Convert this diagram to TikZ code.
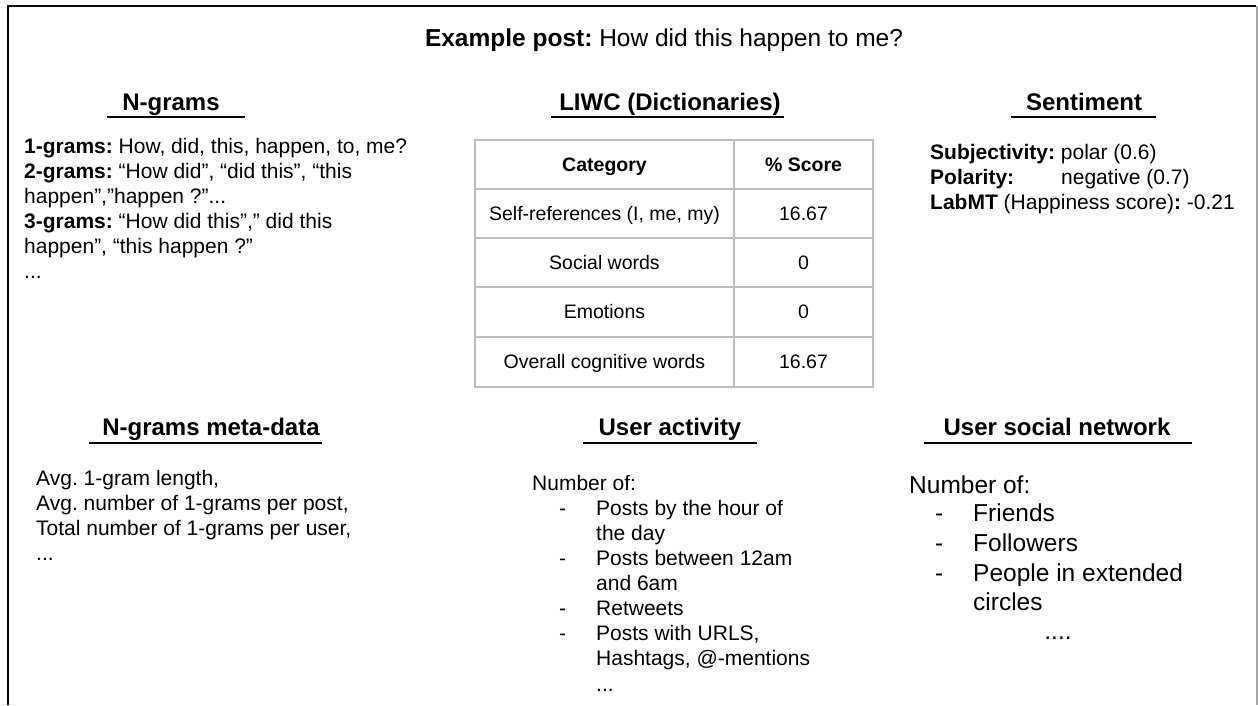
\documentclass[tikz,border=0pt]{standalone}
\usepackage{fontspec}
\setmainfont{Liberation Sans}
\frenchspacing
\definecolor{tablegray}{HTML}{BDBDBD}
\definecolor{edgegray}{HTML}{A8A8A8}
\begin{document}
\begin{tikzpicture}[x=1pt,y=-1pt,
  txt/.style={anchor=base west, inner sep=0pt, font=\fontsize{21}{25}\selectfont},
  bigtxt/.style={anchor=base west, inner sep=0pt, font=\fontsize{24.5}{29}\selectfont},
  head/.style={anchor=base, inner sep=0pt, font=\fontsize{24}{28}\selectfont\bfseries},
  cell/.style={anchor=base, inner sep=0pt, font=\fontsize{19.5}{23}\selectfont},
  headrule/.style={line width=1.5pt},
  grid/.style={draw=tablegray, line width=1.1pt}]
\useasboundingbox (0,0) rectangle (1258,705);

% frame
\draw[line width=2.6pt] (8,705) -- (8,6) -- (1256,6);
\draw[edgegray, line width=1.3pt] (1257,6) -- (1257,705);

% title
\node[anchor=base, inner sep=0pt, font=\fontsize{24.5}{29}\selectfont] (title) at (664,46)
  {\textbf{Example post:} How did this happen to me?};

% section headings with their rules
\node[head] (hng)   at (171,110) {N-grams};
\node[head] (hliwc) at (670,110) {LIWC (Dictionaries)};
\node[head] (hsent) at (1084,110) {Sentiment};
\node[head] (hmeta) at (211,435) {N-grams meta-data};
\node[head] (hact)  at (670,435) {User activity};
\node[head] (hsoc)  at (1057,435) {User social network};
\draw[headrule] (107,117) -- (245,117);
\draw[headrule] (551,117) -- (784,117);
\draw[headrule] (1011,117) -- (1156,117);
\draw[headrule] (89,443) -- (322,443);
\draw[headrule] (583,443) -- (757,443);
\draw[headrule] (924,443) -- (1192,443);

% n-grams
\node[txt] (ng1) at (24,153) {\textbf{1-grams:} How, did, this, happen, to, me?};
\node[txt] (ng2) at (24,178) {\textbf{2-grams:} “How did”, “did this”, “this};
\node[txt] (ng3) at (24,203) {happen”,”happen ?”...};
\node[txt] (ng4) at (24,228) {\textbf{3-grams:} “How did this”,” did this};
\node[txt] (ng5) at (24,253) {happen”, “this happen ?”};
\node[txt] (ng6) at (24,278) {...};

% LIWC table
\draw[grid] (475,140) rectangle (873,387);
\foreach \yy in {189,238,287,337} \draw[grid] (475,\yy) -- (873,\yy);
\draw[grid] (734,140) -- (734,387);
\node[cell, font=\fontsize{19.5}{23}\selectfont\bfseries] (c11) at (604.5,171) {Category};
\node[cell, font=\fontsize{19.5}{23}\selectfont\bfseries] (c12) at (803.5,171) {\% Score};
\node[cell] (c21) at (604.5,220) {Self-references (I, me, my)};
\node[cell] (c22) at (803.5,220) {16.67};
\node[cell] (c31) at (604.5,269) {Social words};
\node[cell] (c32) at (803.5,269) {0};
\node[cell] (c41) at (604.5,318.5) {Emotions};
\node[cell] (c42) at (803.5,318.5) {0};
\node[cell] (c51) at (604.5,368.5) {Overall cognitive words};
\node[cell] (c52) at (803.5,368.5) {16.67};

% sentiment
\node[txt] (s1) at (930,159) {\textbf{Subjectivity:} polar (0.6)};
\node[txt] (s2) at (930,184) {\makebox[131pt][l]{\textbf{Polarity:}}negative (0.7)};
\node[txt] (s3) at (930,209) {\textbf{LabMT} (Happiness score)\textbf{:} -0.21};

% n-grams meta-data
\node[txt] (m1) at (36,485) {Avg. 1-gram length,};
\node[txt] (m2) at (36,510) {Avg. number of 1-grams per post,};
\node[txt] (m3) at (36,535) {Total number of 1-grams per user,};
\node[txt] (m4) at (36,560) {...};

% user activity
\node[txt] (a0) at (532,490) {Number of:};
\node[txt] (ad1) at (559,515) {-};
\node[txt] (a1) at (596,515) {Posts by the hour of};
\node[txt] (a1b) at (596,540) {the day};
\node[txt] (ad2) at (559,565) {-};
\node[txt] (a2) at (596,565) {Posts between 12am};
\node[txt] (a2b) at (596,590) {and 6am};
\node[txt] (ad3) at (559,615) {-};
\node[txt] (a3) at (596,615) {Retweets};
\node[txt] (ad4) at (559,640) {-};
\node[txt] (a4) at (596,640) {Posts with URLS,};
\node[txt] (a4b) at (596,665) {Hashtags, @-mentions};
\node[txt] (a5) at (596,691) {...};

% user social network
\node[bigtxt] (n0) at (909,493) {Number of:};
\node[bigtxt] (nd1) at (935,521) {-};
\node[bigtxt] (n1) at (973,521) {Friends};
\node[bigtxt] (nd2) at (935,551) {-};
\node[bigtxt] (n2) at (973,551) {Followers};
\node[bigtxt] (nd3) at (935,581) {-};
\node[bigtxt] (n3) at (973,581) {People in extended};
\node[bigtxt] (n3b) at (973,610) {circles};
\node[bigtxt, anchor=base] (n4) at (1058,639) {....};
\end{tikzpicture}
\end{document}
